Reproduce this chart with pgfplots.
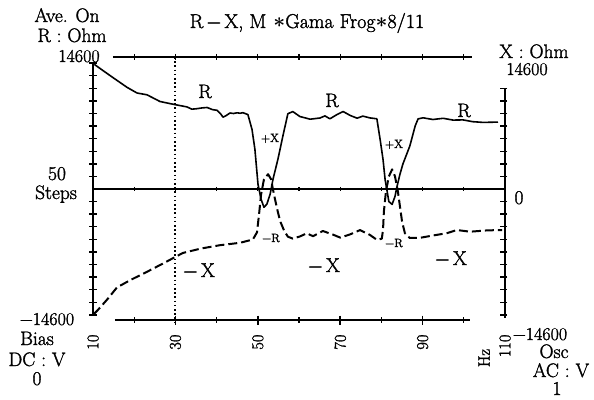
\documentclass[border=0pt]{standalone}
\usepackage{fontspec}
\setmainfont{Latin Modern Roman}[FakeBold=1.6]
\usepackage{pgfplots}
\pgfplotsset{compat=1.18}
\begin{document}
\begin{tikzpicture}
\useasboundingbox (-93pt,-79pt) rectangle (501pt,320pt);
\begin{axis}[at={(0pt,0pt)}, anchor=south west, scale only axis,
  width=412pt, height=263pt,
  xmin=10, xmax=110, ymin=-15183, ymax=15299,
  axis line style={draw=none}, major tick length=0pt,
  ytick=\empty, xtick={10,30,50,70,90,110},
  /pgf/number format/assume math mode=true,
  xticklabel style={rotate=90, anchor=east, font=\fontsize{16.5}{17}\selectfont},
  xticklabel shift=11pt,
  clip=false]
% frame lines
\draw[line width=2.2pt] (10,14600) -- (10,-14600);
\draw[line width=1.8pt] (110,11700) -- (110,-14950);
\draw[line width=1.6pt] (14.85,15299) -- (102,15299);
\draw[line width=1.8pt] (15.3,-15183) -- (101.5,-15183);
\draw[line width=2.2pt] (10,0) -- (110,0);
\draw[line width=2pt, dash pattern=on 1.6pt off 2.6pt] (30,15299) -- (30,-15400);
% ticks
\addplot[only marks, mark=-, mark size=4pt, mark options={line width=1.4pt}] coordinates {
(10,-14600) (10,-13140) (10,-11680) (10,-10220) (10,-8760) (10,-7300) (10,-5840)
(10,-4380) (10,-2920) (10,-1460) (10,1460) (10,2920) (10,4380) (10,5840)
(10,7300) (10,8760) (10,10220) (10,11680) (10,13140) (10,14600)};
\addplot[only marks, mark=-, mark size=3.5pt, mark options={line width=1.4pt, xshift=-1.5pt}] coordinates {
(110,-14600) (110,-13140) (110,-11680) (110,-10220) (110,-8760) (110,-7300) (110,-5840)
(110,-4380) (110,-2920) (110,-1460) (110,1460) (110,2920) (110,4380) (110,5840)
(110,7300) (110,8760) (110,10220) (110,11680)};
\addplot[only marks, mark=|, mark size=3pt, mark options={line width=1.2pt}] coordinates {
(20,15299) (30,15299) (40,15299) (50,15299) (60,15299) (70,15299) (80,15299) (90,15299) (100,15299)};
\addplot[only marks, mark=|, mark size=4.5pt, mark options={line width=1.6pt}] coordinates {
(30,-15183) (50,-15183) (70,-15183) (90,-15183)};
\addplot[only marks, mark=|, mark size=3pt, mark options={line width=1.2pt}] coordinates {
(20,-15183) (40,-15183) (60,-15183) (80,-15183) (100,-15183)};
\addplot[only marks, mark=|, mark size=2.2pt, mark options={line width=1.2pt}] coordinates {
(20,0) (30,0) (40,0) (50,0) (60,0) (70,0) (80,0) (90,0) (100,0)};
% R / +X curve
\addplot[black, line width=1.6pt, line join=round, no marks] coordinates {
(10.3,14450) (12.5,13700) (14.85,12911) (18.25,11787) (20.68,11126) (23.1,10918)
(26.26,10141) (29.4,9828) (32.8,9515) (34.0,9250) (35.2,9307) (36.5,9400) (37.7,9446)
(39.0,9200) (40.1,9121) (41.0,8700) (41.55,8327) (42.3,8500) (43.25,8808) (44.1,8750)
(44.95,8832) (45.7,8780) (46.4,8843) (47.6,8623) (48.6,6896) (49.3,4590)
(50.05,533) (50.8,-1194) (51.5,-2115) (52.2,-1762) (53.0,-591) (53.7,1153)
(54.9,3484) (56.1,6166) (57.3,8727) (58.5,8971) (60.2,8403) (62.7,8090)
(65.1,8229) (66.3,8472) (67.5,8136) (69.2,8623) (70.7,8982) (72.4,8530)
(74.1,8206) (75.5,8449) (77.2,8240) (78.9,8136) (79.7,5714) (80.4,3407)
(80.9,1089) (81.4,-296) (81.8,-1449) (82.6,-1785) (83.3,-858) (83.8,313)
(84.5,1704) (85.2,2874) (86.9,4984) (88.2,7313) (88.9,8125) (90.1,8252)
(92.5,8055) (95.0,8194) (97.4,7986) (99.8,8009) (102.2,7800) (104.7,7719) (108.3,7754)};
% -X / -R curve
\addplot[black, line width=2pt, line join=round, dash pattern=on 9pt off 4pt, no marks] coordinates {
(10.2,-14500) (11.2,-14012) (13.4,-12830) (15.8,-11416) (19.0,-10570) (23.1,-9597)
(27.0,-8635) (29.4,-8020) (31.8,-7418) (36.0,-6919) (40.8,-6514) (45.7,-6235)
(48.8,-5853) (49.8,-5030) (50.3,-2944) (50.8,-614) (51.5,1130) (52.5,1715)
(53.2,1147) (53.9,-580) (54.7,-2318) (55.4,-3697) (56.4,-4845) (57.3,-5528)
(58.5,-5749) (60.2,-5505) (61.9,-5134) (63.4,-5470) (65.8,-4868) (68.3,-5297)
(70.0,-5633) (72.4,-5262) (74.8,-4763) (77.2,-5320) (78.9,-5888) (80.1,-5760)
(80.4,-4706) (80.6,-2619) (81.1,-301) (81.8,1449) (82.6,2272) (83.3,1460)
(84.0,-267) (84.5,-2005) (85.0,-3732) (85.7,-5123) (86.9,-5679) (89.4,-5656)
(92.5,-5389) (95.9,-5123) (98.3,-4752) (101.5,-4949) (105.6,-4798) (109.3,-4752)};
\end{axis}
\begin{scope}[shift={(-93pt,320pt)}, x=1pt, y=-1pt,
  every node/.style={font=\fontsize{19.5}{21}\selectfont, inner sep=0pt, anchor=base}]
\node at (67,22) {Ave. On};
\node at (72,42) {R : Ohm};
\node[font=\fontsize{18}{20}\selectfont] at (79,62) {14600};
\node[font=\fontsize{20}{22}\selectfont] at (307,28) {R\,−\,X,\ M\hspace{7pt}{\boldmath$\ast$}Gama Frog{\boldmath$\ast$}8/11};
\node at (534,58) {X : Ohm};
\node[font=\fontsize{18}{20}\selectfont] at (527,75) {14600};
\node at (57,180) {50};
\node at (56,199) {Steps};
\node at (519,204) {0};
\node[font=\fontsize{18}{20}\selectfont] at (47,325) {−14600};
\node at (37,345) {Bias};
\node at (37,366) {DC : V};
\node at (37,385) {0};
\node[font=\fontsize{18}{20}\selectfont] at (540,340) {−14600};
\node at (554,358) {Osc};
\node at (561,377) {AC : V};
\node at (557,395) {1};
\node[rotate=90, anchor=center, font=\fontsize{16.5}{17}\selectfont] at (484,358) {Hz};
\node at (205,98) {R};
\node at (332,107) {R};
\node at (464,117) {R};
\node[font=\fontsize{12}{13}\selectfont] at (270,142) {+X};
\node[font=\fontsize{12}{13}\selectfont] at (394,148) {+X};
\node[font=\fontsize{12}{13}\selectfont] at (271,242) {−R};
\node[font=\fontsize{12}{13}\selectfont] at (394,247) {−R};
\node[font=\fontsize{20}{22}\selectfont] at (199,277) {−\,X};
\node[font=\fontsize{20}{22}\selectfont] at (324,272) {−\,X};
\node[font=\fontsize{20}{22}\selectfont] at (451,265) {−\,X};
\end{scope}
\end{tikzpicture}
\end{document}
